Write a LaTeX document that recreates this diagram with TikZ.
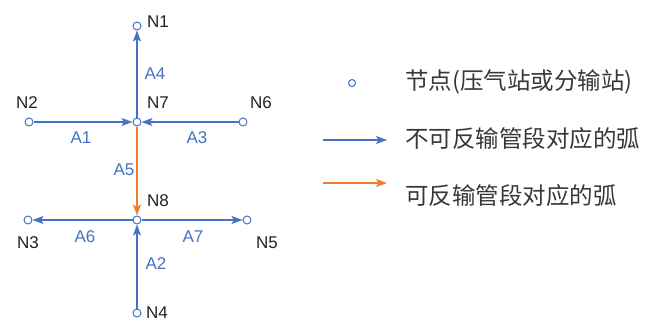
\documentclass[tikz,border=0pt]{standalone}
\usepackage{fontspec}
\setmainfont{Liberation Sans}
\newfontfamily\cjk{Noto Sans CJK SC}
\usetikzlibrary{arrows.meta}
\definecolor{eblue}{HTML}{4472C4}
\definecolor{eorange}{HTML}{ED7D31}
\definecolor{txt}{HTML}{222222}
\tikzset{
  vtx/.style={circle,draw=eblue,fill=white,line width=1pt,inner sep=0pt,minimum size=8pt},
  nlab/.style={text=txt,font=\fontsize{17}{17}\selectfont,inner sep=0pt},
  alab/.style={text=eblue,font=\fontsize{17}{17}\selectfont,inner sep=0pt},
  arc/.style={draw=eblue,line width=1.3pt,-{Stealth[length=11pt,width=8pt,inset=2.5pt]}},
  rarc/.style={draw=eorange,line width=1.3pt,-{Stealth[length=11pt,width=8pt,inset=2.5pt]}},
  legtext/.style={text=txt!90,font=\cjk\fontsize{23.5}{23.5}\selectfont,anchor=west,inner sep=0pt},
}
\begin{document}
\begin{tikzpicture}[x=1pt,y=-1pt]
\useasboundingbox (0,0) rectangle (658,322);
\coordinate (p1) at (137,26);
\coordinate (p7) at (137,122);
\coordinate (p2) at (29,122);
\coordinate (p6) at (243,122);
\coordinate (p8) at (137,220);
\coordinate (p3) at (28,220);
\coordinate (p5) at (247,220);
\coordinate (p4) at (137,313);
\node[vtx] (N1) at (p1) {};
\node[vtx] (N7) at (p7) {};
\node[vtx] (N2) at (p2) {};
\node[vtx] (N6) at (p6) {};
\node[vtx] (N8) at (p8) {};
\node[vtx] (N3) at (p3) {};
\node[vtx] (N5) at (p5) {};
\node[vtx] (N4) at (p4) {};
\draw[arc] (N7) -- (N1);
\draw[arc] (N2) -- (N7);
\draw[arc] (N6) -- (N7);
\draw[rarc] (N7) -- (N8);
\draw[arc] (N8) -- (N3);
\draw[arc] (N8) -- (N5);
\draw[arc] (N4) -- (N8);
% node labels
\node[nlab] (l1) at (158,22) {N1};
\node[nlab] (l7) at (158,103) {N7};
\node[nlab] (l2) at (27,103) {N2};
\node[nlab] (l6) at (261,103) {N6};
\node[nlab] (l8) at (158,201) {N8};
\node[nlab] (l3) at (28,243) {N3};
\node[nlab] (l5) at (267,243) {N5};
\node[nlab] (l4) at (157,313) {N4};
% arc labels
\node[alab] (a4) at (155,74) {A4};
\node[alab] (a1) at (81,138) {A1};
\node[alab] (a3) at (197,138) {A3};
\node[alab] (a5) at (124,170) {A5};
\node[alab] (a6) at (85,237) {A6};
\node[alab] (a7) at (193,237) {A7};
\node[alab] (a2) at (156,264) {A2};
% legend
\node[vtx,minimum size=7pt] (lv) at (352,83) {};
\coordinate (b1) at (323,140);
\coordinate (b2) at (387,140);
\coordinate (o1) at (323,183);
\coordinate (o2) at (387,183);
\draw[arc] (b1) -- (b2);
\draw[rarc] (o1) -- (o2);
\node[legtext] (t1) at (405,82) {节点(压气站或分输站)};
\node[legtext] (t2) at (405,139) {不可反输管段对应的弧};
\node[legtext] (t3) at (405,196) {可反输管段对应的弧};
\end{tikzpicture}
\end{document}
